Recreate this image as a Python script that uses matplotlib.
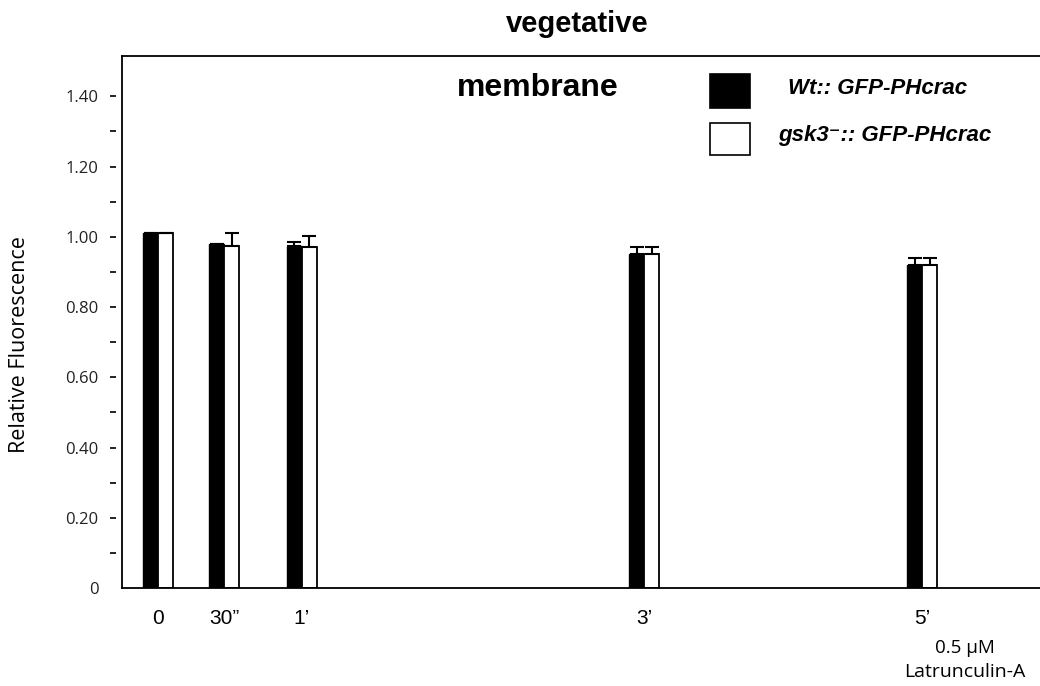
import matplotlib
matplotlib.use("Agg")
import matplotlib.pyplot as plt
from matplotlib.patches import Rectangle
import numpy as np

# ---- data ----
categories = ["0", "30\u201d", "1\u2019", "3\u2019", "5\u2019"]
x_pos = [0.0, 0.43, 0.94, 3.18, 5.0]          # group centres on the time axis
wt_values = [1.01, 0.98, 0.975, 0.95, 0.92]
wt_err = [0.0, 0.0, 0.009, 0.022, 0.021]
gsk3_values = [1.01, 0.975, 0.972, 0.95, 0.92]
gsk3_err = [0.0, 0.036, 0.03, 0.022, 0.021]
series_labels = ["Wt:: GFP-PHcrac", "gsk3\u207b:: GFP-PHcrac"]
ytick_values = [0, 0.2, 0.4, 0.6, 0.8, 1.0, 1.2, 1.4]
ytick_labels = ["0", "0.20", "0.40", "0.60", "0.80", "1.00", "1.20", "1.40"]

fig = plt.figure(figsize=(10.40, 6.86), dpi=100)
ax = fig.add_axes([122/1040, 1 - 588/686, 1 - 122/1040, (588 - 56)/686])

bw = 0.098
x = np.array(x_pos)
ax.bar(x - bw/2, wt_values, width=bw, color="black", edgecolor="black", linewidth=1.0, zorder=2)
ax.bar(x + bw/2, gsk3_values, width=bw, color="white", edgecolor="black", linewidth=1.3, zorder=2)
ax.errorbar(x - bw/2, wt_values, yerr=[np.zeros(len(x)), wt_err], fmt="none",
            ecolor="black", elinewidth=1.5, capsize=5, capthick=1.5, zorder=3)
ax.errorbar(x + bw/2, gsk3_values, yerr=[np.zeros(len(x)), gsk3_err], fmt="none",
            ecolor="black", elinewidth=1.5, capsize=5, capthick=1.5, zorder=3)

ax.set_xlim(-0.2376, 5.77)
ax.set_ylim(0, 1.515)

# spines
ax.spines["right"].set_visible(False)
ax.spines["top"].set_linewidth(1.3)
ax.spines["bottom"].set_linewidth(1.3)
ax.spines["left"].set_position(("outward", 4))
ax.spines["left"].set_visible(False)
ax.plot([0, 0], [0, 1], transform=ax.transAxes, color="black", lw=1.3, clip_on=False, zorder=4)

# y ticks
ax.set_yticks(ytick_values)
ax.set_yticklabels(ytick_labels, fontfamily="Open Sans", fontsize=12, color="#222222")
ax.set_yticks(np.arange(0.1, 1.4, 0.2), minor=True)
ax.tick_params(axis="y", which="both", direction="out", length=4, width=1.2, pad=9)
ax.yaxis.get_major_ticks()[0].tick1line.set_visible(False)

# x ticks
ax.set_xticks(x_pos)
ax.set_xticklabels(categories, fontfamily="Liberation Sans", fontsize=15)
ax.tick_params(axis="x", length=0, pad=15)

ax.set_ylabel("Relative Fluorescence", fontfamily="Open Sans", fontsize=15.5)
ax.yaxis.set_label_coords(-0.100, 0.458)

# titles
fig.text(577/1040, 1 - 24/686, "vegetative", ha="center", va="center",
         fontfamily="Liberation Sans", fontweight="bold", fontsize=21)
fig.text(538/1040, 1 - 88/686, "membrane", ha="center", va="center",
         fontfamily="Liberation Sans", fontweight="bold", fontsize=23)

# legend (manual)
fig.patches.append(Rectangle((710/1040, 1 - 108/686), 40/1040, 34/686, transform=fig.transFigure,
                             facecolor="black", edgecolor="black", lw=1.2))
fig.patches.append(Rectangle((710/1040, 1 - 155/686), 40/1040, 32/686, transform=fig.transFigure,
                             facecolor="white", edgecolor="black", lw=1.2))
fig.text(788/1040, 1 - 88/686, series_labels[0], ha="left", va="center",
         family=["Liberation Sans", "DejaVu Sans"], fontweight="bold", fontstyle="italic", fontsize=16)
fig.text(778/1040, 1 - 135/686, series_labels[1], ha="left", va="center",
         family=["Liberation Sans", "DejaVu Sans"], fontweight="bold", fontstyle="italic", fontsize=16)

# treatment annotation
fig.text(965/1040, 1 - 648/686, "0.5 \u00b5M", ha="center", va="center",
         fontfamily="Open Sans", fontsize=13.5)
fig.text(965/1040, 1 - 672/686, "Latrunculin-A", ha="center", va="center",
         fontfamily="Open Sans", fontsize=14)

fig.savefig("out.png", dpi=100)
